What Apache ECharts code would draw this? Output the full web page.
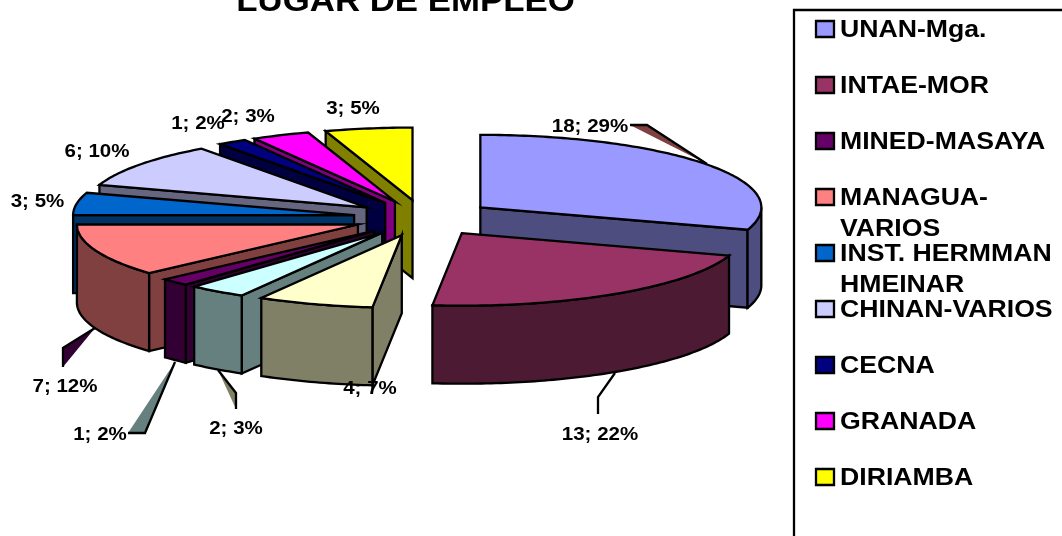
<!DOCTYPE html>
<html>
<head>
<meta charset="utf-8">
<title>LUGAR DE EMPLEO</title>
<style>
  html, body { margin: 0; padding: 0; background: #fff; overflow: hidden; }
  #chart { width: 1062px; height: 536px; }
</style>
<script src="https://cdn.jsdelivr.net/npm/echarts@6/dist/echarts.min.js"></script>
</head>
<body>
<div id="chart"></div>
<script>
var titleText = 'LUGAR DE EMPLEO';

// slices clockwise from 12 o'clock; two of them have no legend entry in the original
var categories = ['UNAN-Mga.', 'INTAE-MOR', '', '', 'MINED-MASAYA', 'MANAGUA-\nVARIOS', 'INST. HERMMAN\nHMEINAR', 'CHINAN-VARIOS', 'CECNA', 'GRANADA', 'DIRIAMBA'];
var values = [18, 13, 4, 2, 1, 7, 3, 6, 1, 2, 3];
var percents = [29, 22, 7, 3, 2, 12, 5, 10, 2, 3, 5];
var colors = ['#9999FF', '#993366', '#FFFFCC', '#CCFFFF', '#660066', '#FF8080', '#0066CC', '#CCCCFF', '#000080', '#FF00FF', '#FFFF00'];

// label centres, moved by hand in the original
var labelPos = [[590, 125], [600, 433], [370, 387], [236, 427], [100, 433], [65, 385], [37.5, 200], [97, 150], [198, 122], [248, 115], [353, 107]];

// leader lines, the old renderer fills them with a neighbour's wall colour
var leaders = [
    { pts: [[630, 125], [647, 125], [707, 164]], fill: '#804040' },
    { pts: [[615, 373], [598, 397], [598, 414]], fill: null },
    { pts: [[218, 370], [236, 393], [236, 409]], fill: '#808066' },
    { pts: [[128, 433], [145, 433], [175, 362]], fill: '#668080' },
    { pts: [[95, 328], [63, 348], [63, 367]], fill: '#330033' }
];

// fake 3d pie geometry
var cx = 423.5, cy = 218, rx = 281, ry = 72.5, depth = 78, explode = 0.25;
var stroke = '#000', lw = 2.3;

var total = values.reduce(function(a, b) { return a + b; }, 0);
var angles = [0];
values.forEach(function(v, i) {
    angles.push(angles[i] + echarts.number.linearMap(v, [0, total], [0, 360]));
});

function darker(hex) {
    var n = parseInt(hex.slice(1), 16);
    var half = function(c) { return Math.round(c / 2); };
    return 'rgb(' + half(n >> 16) + ',' + half((n >> 8) & 255) + ',' + half(n & 255) + ')';
}

function rad(a) { return a * Math.PI / 180; }

function rimPoint(apex, a, dy) {
    return [apex[0] + Math.sin(rad(a)) * rx, apex[1] - Math.cos(rad(a)) * ry + dy];
}

function arcPoints(apex, a0, a1, dy) {
    var pts = [];
    var n = Math.max(2, Math.ceil(Math.abs(a1 - a0)));
    for (var i = 0; i <= n; i++) {
        pts.push(rimPoint(apex, a0 + (a1 - a0) * i / n, dy));
    }
    return pts;
}

function face(points, fill, z2) {
    return {
        type: 'polygon',
        z2: z2,
        shape: { points: points },
        style: { fill: fill, stroke: stroke, lineWidth: lw, lineJoin: 'miter' }
    };
}

function renderSlice(params) {
    var i = params.dataIndex;
    var a0 = angles[i], a1 = angles[i + 1], mid = (a0 + a1) / 2;
    var apex = [cx + Math.sin(rad(mid)) * rx * explode, cy - Math.cos(rad(mid)) * ry * explode];
    var low = [apex[0], apex[1] + depth];
    var wall = darker(colors[i]);
    // back slices first
    var z = Math.round((180 - Math.abs(mid - 180)) * 10);
    var children = [];

    // cut faces, only the ones turned to the viewer
    if (Math.sin(rad(a0)) < -1e-6) {
        children.push(face([apex, rimPoint(apex, a0, 0), rimPoint(apex, a0, depth), low], wall, z));
    }
    if (Math.sin(rad(a1)) > 1e-6) {
        children.push(face([apex, rimPoint(apex, a1, 0), rimPoint(apex, a1, depth), low], wall, z));
    }
    // outer wall, front half only
    var r0 = Math.max(a0, 90), r1 = Math.min(a1, 270);
    if (r1 > r0) {
        children.push(face(arcPoints(apex, r0, r1, 0).concat(arcPoints(apex, r1, r0, depth)), wall, z + 1));
    }
    // top
    children.push(face([apex].concat(arcPoints(apex, a0, a1, 0)), colors[i], z + 2));

    return { type: 'group', children: children };
}

function boldText(text, x, y, size, align, scale) {
    return {
        type: 'text', x: x, y: y, scaleX: scale, z: 50, silent: true,
        style: {
            text: text,
            font: 'bold ' + size + 'px "Liberation Sans", Arial, sans-serif',
            fill: '#000',
            align: align,
            verticalAlign: 'middle'
        }
    };
}

var graphics = [];

graphics.push(boldText(titleText, 405.5, 2, 31, 'center', 1.123));

// legend box runs off the page on the right and at the bottom
graphics.push({
    type: 'rect', z: 40, silent: true,
    shape: { x: 794, y: 10, width: 400, height: 700 },
    style: { fill: '#fff', stroke: stroke, lineWidth: lw }
});

var legendRow = 0;
categories.forEach(function(name, i) {
    if (!name) return;
    var rowY = 29 + legendRow * 56;
    legendRow++;
    graphics.push({
        type: 'rect', z: 50, silent: true,
        shape: { x: 816, y: rowY - 8, width: 18, height: 16 },
        style: { fill: colors[i], stroke: stroke, lineWidth: lw }
    });
    name.split('\n').forEach(function(line, k) {
        graphics.push(boldText(line, 840, rowY + 1.5 + k * 31, 24, 'left', 1.11));
    });
});

leaders.forEach(function(l) {
    if (l.fill) {
        graphics.push({
            type: 'polygon', z: 45, silent: true,
            shape: { points: l.pts },
            style: { fill: l.fill }
        });
    }
    graphics.push({
        type: 'polyline', z: 46, silent: true,
        shape: { points: l.pts },
        style: { fill: null, stroke: stroke, lineWidth: lw }
    });
});

values.forEach(function(v, i) {
    var p = labelPos[i];
    graphics.push(boldText(v + '; ' + percents[i] + '%', p[0], p[1] + 1.5, 19, 'center', 1.08));
});

var myChart = echarts.init(document.getElementById('chart'), null, { renderer: 'canvas' });

var option = {
    animation: false,
    backgroundColor: '#fff',
    tooltip: { show: false },
    graphic: { elements: graphics },
    series: [{
        type: 'custom',
        coordinateSystem: 'none',
        silent: true,
        renderItem: renderSlice,
        data: values
    }]
};

myChart.setOption(option);
</script>
</body>
</html>
